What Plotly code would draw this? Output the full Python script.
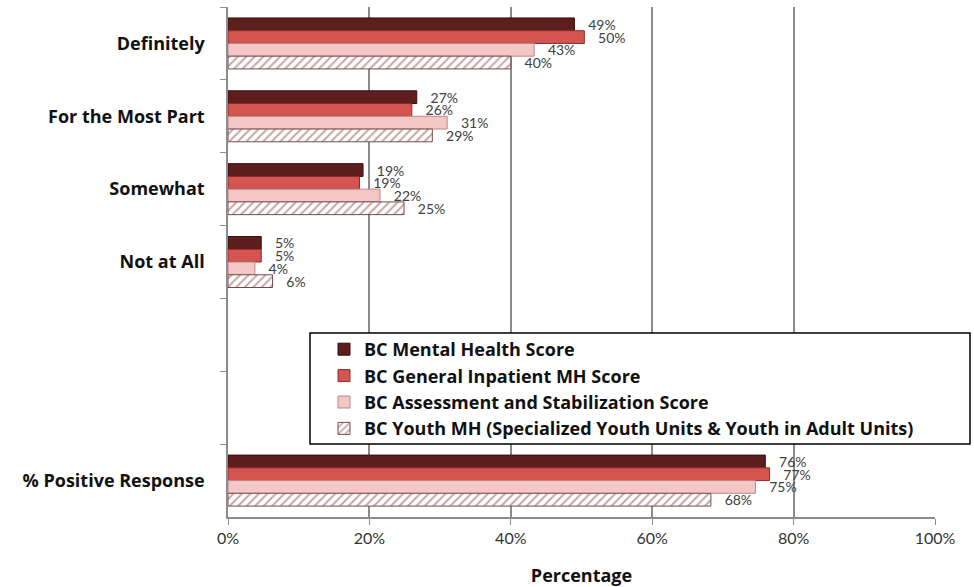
import plotly.graph_objects as go

categories = ["Definitely", "For the Most Part", "Somewhat", "Not at All", " ", "  ", "% Positive Response"]
series_names = [
    "BC Mental Health Score",
    "BC General Inpatient MH Score",
    "BC Assessment and Stabilization Score",
    "BC Youth MH (Specialized Youth Units & Youth in Adult Units)",
]
mental_health = [49.0, 26.7, 19.1, 4.7, None, None, 76.0]
general_inpatient = [50.4, 26.0, 18.6, 4.7, None, None, 76.6]
assessment = [43.3, 31.0, 21.5, 3.8, None, None, 74.6]
youth = [40.0, 28.9, 24.9, 6.3, None, None, 68.3]
x_ticks = [0, 20, 40, 60, 80, 100]
x_tick_labels = ["0%", "20%", "40%", "60%", "80%", "100%"]

values = [mental_health, general_inpatient, assessment, youth]
fills = ["#5e1e1e", "#d4554f", "#f4c6c6", "#ffffff"]
lines = ["#3a0f0f", "#8e2c2a", "#b88888", "#7a4a4a"]

fig = go.Figure()
for i, (name, vals) in enumerate(zip(series_names, values)):
    labels = [f"   {round(v)}%" if v is not None else "" for v in vals]
    marker = dict(color=fills[i], line=dict(color=lines[i], width=1))
    if i == 3:
        marker["pattern"] = dict(shape="/", fgcolor="#8a5050", bgcolor="#ffffff",
                                 size=6, solidity=0.35, fillmode="overlay")
    fig.add_trace(go.Bar(
        name=name, y=categories, x=vals, orientation="h",
        marker=marker, text=labels, textposition="outside",
        textfont=dict(family="Lato", size=14, color="#404040"),
        cliponaxis=False, constraintext="none",
    ))

fig.add_shape(type="rect", xref="paper", yref="paper",
              x0=(310 - 228) / 707, x1=(970 - 228) / 707,
              y0=(517 - 444) / 510, y1=(517 - 333) / 510,
              fillcolor="white", line=dict(color="black", width=1.5), layer="above")

fig.update_layout(
    width=974, height=587,
    margin=dict(l=228, r=39, t=7, b=70),
    plot_bgcolor="white", paper_bgcolor="white",
    barmode="group", bargap=0.3, bargroupgap=0,
    showlegend=True,
    legend=dict(x=(324 - 228) / 707, y=(517 - 331) / 510, xanchor="left", yanchor="top",
                bgcolor="rgba(0,0,0,0)", borderwidth=0,
                font=dict(family="Open Sans", size=18, color="#111111", weight="bold"),
                traceorder="normal", tracegroupgap=0),
    xaxis=dict(range=[0, 100], tickmode="array", tickvals=x_ticks, ticktext=x_tick_labels,
               automargin=False,
               showgrid=True, gridcolor="#8c8c8c", gridwidth=1.5,
               showline=True, linecolor="#8c8c8c", linewidth=1.5,
               ticks="outside", ticklen=6, tickcolor="#8c8c8c",
               tickfont=dict(family="Lato", size=16, color="#333333"),
               title=dict(text="Percentage", standoff=24,
                          font=dict(family="Open Sans", size=18, color="#111111", weight="bold")),
               zeroline=False, mirror=False),
    yaxis=dict(categoryorder="array", categoryarray=categories, autorange="reversed",
               automargin=False,
               showline=True, linecolor="#8c8c8c", linewidth=1.5,
               ticks="outside", ticklen=6, tickcolor="#8c8c8c", tickson="boundaries",
               tickfont=dict(family="Open Sans", size=18, color="#111111", weight="bold"),
               showgrid=False, ticklabelstandoff=18),
)
fig.write_html("out.html")
